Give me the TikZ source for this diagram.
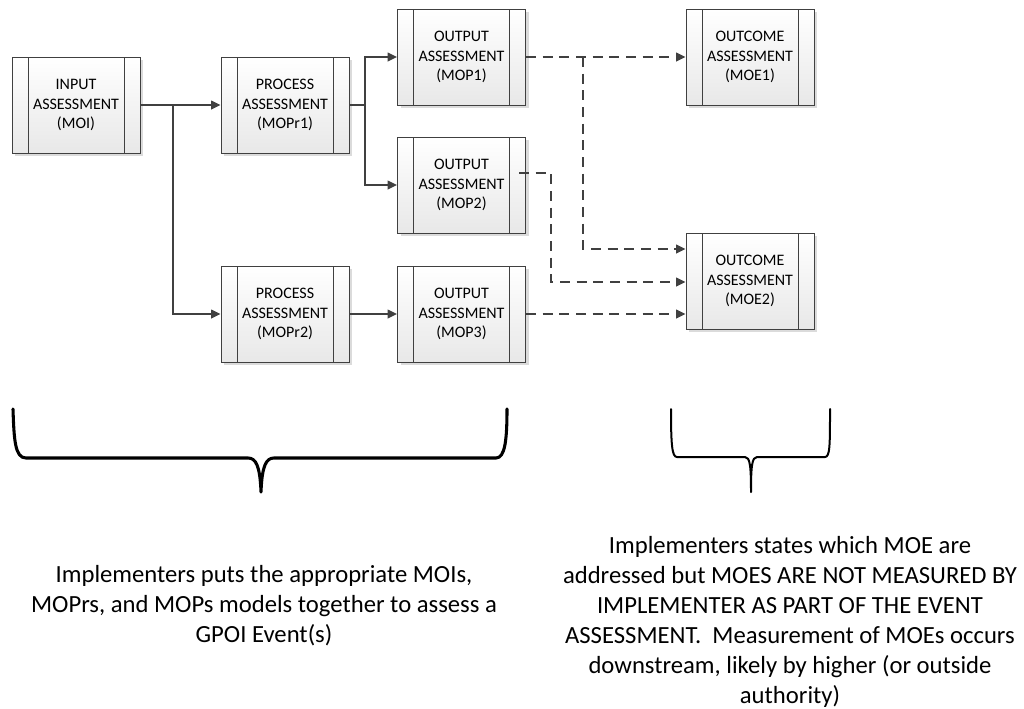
\documentclass[tikz,border=0pt]{standalone}
\usepackage{fontspec}
\setmainfont{Carlito}
\usetikzlibrary{arrows.meta,shadows,calc}
\definecolor{ln}{HTML}{404040}
\tikzset{
  pbox/.style={draw=ln, line width=0.75pt, minimum width=96pt, minimum height=72pt,
    inner sep=0pt, align=center, font=\fontsize{12}{14.6}\selectfont,
    top color=white, bottom color=black!9,
    drop shadow={shadow xshift=2.25pt, shadow yshift=-2.25pt, fill=black!14, opacity=1},
    path picture={\draw[ln, line width=0.75pt]
      ([xshift=12pt]path picture bounding box.north west) -- ([xshift=12pt]path picture bounding box.south west)
      ([xshift=-12pt]path picture bounding box.north east) -- ([xshift=-12pt]path picture bounding box.south east);}},
  conn/.style={draw=ln, line width=1.1pt, -{Triangle[length=7pt,width=6.5pt]}},
  dconn/.style={conn, dash pattern=on 7.5pt off 5pt},
  brace/.style={draw=black, line cap=round, line join=round},
  note/.style={align=center, font=\fontsize{18.5}{22.5}\selectfont, inner sep=0pt},
}
\begin{document}
\begin{tikzpicture}[x=0.75pt, y=-0.75pt]
\useasboundingbox (0,0) rectangle (1024,708);
% boxes
\node[pbox] (in)  at (76,105)    {INPUT\\ASSESSMENT\\(MOI)};
\node[pbox] (pr1) at (285,105)   {PROCESS\\ASSESSMENT\\(MOPr1)};
\node[pbox] (pr2) at (285,314)   {PROCESS\\ASSESSMENT\\(MOPr2)};
\node[pbox] (op1) at (461.5,57)  {OUTPUT\\ASSESSMENT\\(MOP1)};
\node[pbox] (op2) at (461.5,185) {OUTPUT\\ASSESSMENT\\(MOP2)};
\node[pbox] (op3) at (461.5,314) {OUTPUT\\ASSESSMENT\\(MOP3)};
\node[pbox] (oc1) at (750,57)    {OUTCOME\\ASSESSMENT\\(MOE1)};
\node[pbox] (oc2) at (750,281)   {OUTCOME\\ASSESSMENT\\(MOE2)};
% solid connectors
\coordinate (b1) at (173,105);
\coordinate (b2) at (365,105);
\draw[conn] (in) -- (pr1);
\draw[conn] (b1) |- (pr2.west);
\draw[conn] (pr1.east) -- (b2) |- (op1.west);
\draw[conn] (b2) |- (op2.west);
\draw[conn] (pr2) -- (op3);
% dashed connectors
\coordinate (j1) at (583,57);
\draw[dconn] (op1) -- (oc1);
\draw[dconn] (j1) |- (oc2.west |- 0,249);
\draw[dconn] ($(op2.east)+(-7,-12)$) -- (551,173) -- (551,282) -- (oc2.west |- 0,282);
\draw[dconn] (op3.east) -- (oc2.west |- op3.east);
% braces
\draw[brace, line width=2.3pt] (13,409) .. controls (14,440) and (15,458) .. (26,458) -- (248,458)
  .. controls (256,458) and (260,466) .. (261,492)
  .. controls (262,466) and (266,458) .. (274,458) -- (496,458)
  .. controls (505,458) and (507,440) .. (507,409);
\draw[brace, line width=1.5pt] (671,409) .. controls (671,445) and (672,457) .. (677,457) -- (745,457)
  .. controls (750,457) and (751,466) .. (751,492)
  .. controls (751,466) and (752,457) .. (757,457) -- (825,457)
  .. controls (830,457) and (830,445) .. (830,409);
% notes
\node[note] (t1) at (264,606) {Implementers puts the appropriate MOIs,\\MOPrs, and MOPs models together to assess a\\GPOI Event(s)};
\node[note] (t2) at (790,622) {Implementers states which MOE are\\addressed but MOES ARE NOT MEASURED BY\\IMPLEMENTER AS PART OF THE EVENT\\ASSESSMENT.\ \ Measurement of MOEs occurs\\downstream, likely by higher (or outside\\authority)};
\end{tikzpicture}
\end{document}
